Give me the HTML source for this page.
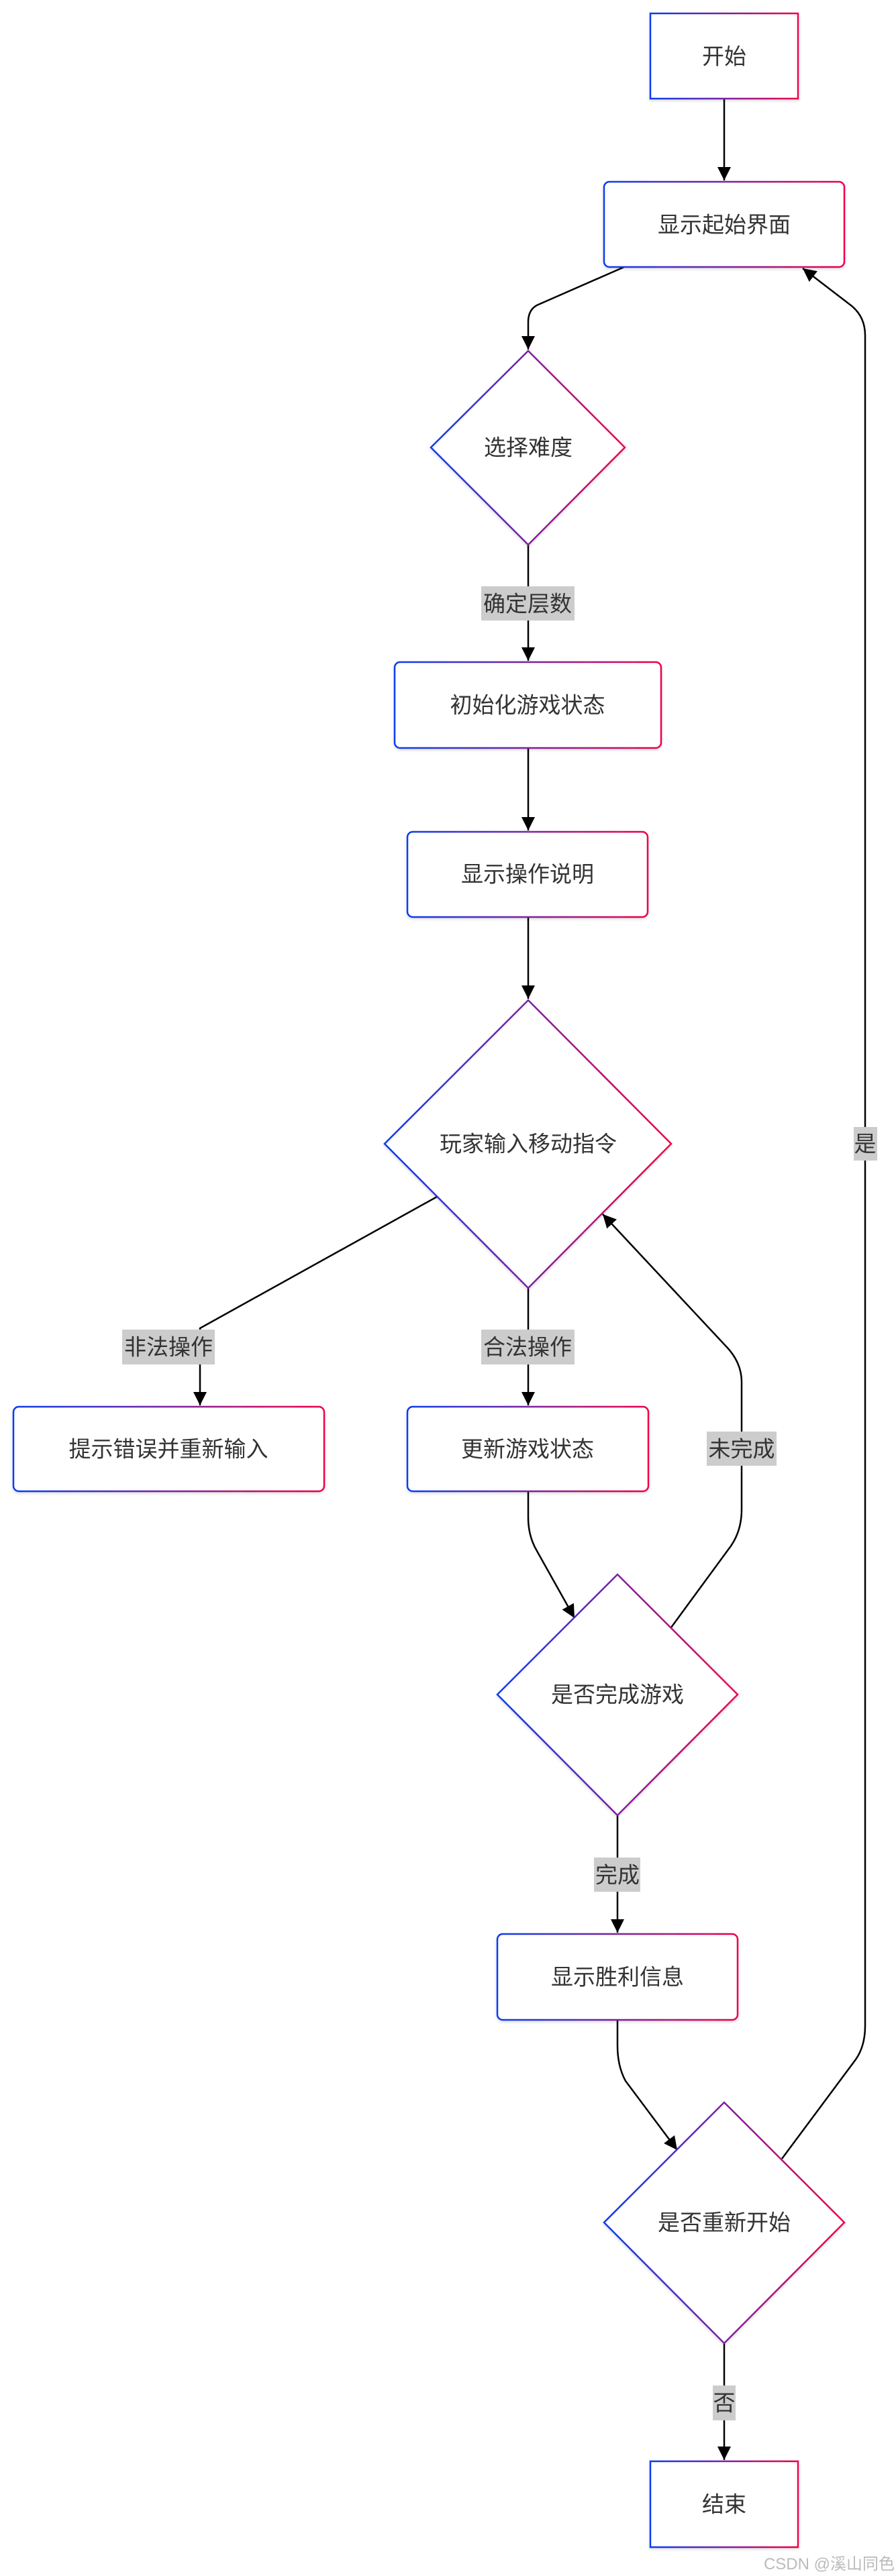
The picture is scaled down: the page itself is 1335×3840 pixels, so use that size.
<!DOCTYPE html>
<html><head><meta charset="utf-8"><style>
html,body{margin:0;padding:0;background:#fff;}
svg{display:block;}
text{font-family:"Liberation Sans","Noto Sans CJK SC",sans-serif;font-size:33px;fill:#333;}
</style></head><body>
<svg width="1335" height="3840" viewBox="0 0 1335 3840" xmlns="http://www.w3.org/2000/svg">
<defs>
<linearGradient id="g" x1="0" y1="0" x2="1" y2="0">
<stop offset="0" stop-color="#0a3cf0"/><stop offset="0.5" stop-color="#7a22a0"/><stop offset="1" stop-color="#f0004a"/>
</linearGradient>
<marker id="a" viewBox="0 0 10 10" refX="9" refY="5" markerWidth="7" markerHeight="7" markerUnits="userSpaceOnUse" orient="auto">
</marker>
<marker id="ar" viewBox="0 0 10 10" refX="10" refY="5" markerWidth="20" markerHeight="20" markerUnits="userSpaceOnUse" orient="auto">
<path d="M0,0 L10,5 L0,10 z" fill="#000"/>
</marker>
<filter id="s" x="-5%" y="-5%" width="110%" height="115%"><feDropShadow dx="0" dy="2" stdDeviation="2" flood-color="#000" flood-opacity="0.15"/></filter>
</defs>
<g fill="none" stroke="#000" stroke-width="2.5">
<path d="M1079,147 L1079,269" marker-end="url(#ar)"/>
<path d="M930,398 L800,455 Q787,462 787,480 L787,521" marker-end="url(#ar)"/>
<path d="M787,812 L787,985" marker-end="url(#ar)"/>
<path d="M787,1115 L787,1238" marker-end="url(#ar)"/>
<path d="M787,1367 L787,1489" marker-end="url(#ar)"/>
<path d="M651,1784 L298,1980 L298,2095" marker-end="url(#ar)"/>
<path d="M787,1920 L787,2095" marker-end="url(#ar)"/>
<path d="M787,2223 L787,2262 Q787,2290 800,2312 L856,2412" marker-end="url(#ar)"/>
<path d="M1000,2426 L1085,2310 Q1105,2285 1105,2250 L1105,2060 Q1105,2030 1080,2005 L898,1810" marker-end="url(#ar)"/>
<path d="M920,2706 L920,2881" marker-end="url(#ar)"/>
<path d="M920,3011 L920,3049 Q920,3080 932,3102 L1009,3205" marker-end="url(#ar)"/>
<path d="M1165,3218 L1275,3070 Q1289,3050 1289,3020 L1289,500 Q1289,470 1265,453 L1196,400" marker-end="url(#ar)"/>
<path d="M1079,3493 L1079,3667" marker-end="url(#ar)"/>
</g>
<g stroke="url(#g)" stroke-width="2.5" fill="#fff" filter="url(#s)">
<rect x="969" y="20" width="220" height="127"/>
<rect x="900" y="271" width="358" height="127" rx="8"/>
<polygon points="787,523 931,667 787,812 642,667"/>
<rect x="588" y="987" width="397" height="128" rx="8"/>
<rect x="607" y="1240" width="358" height="127" rx="8"/>
<polygon points="787,1491 1000,1705 787,1920 573,1705"/>
<rect x="20" y="2097" width="463" height="126" rx="8"/>
<rect x="607" y="2097" width="359" height="126" rx="8"/>
<polygon points="920,2347 1099,2526 920,2706 741,2526"/>
<rect x="741" y="2883" width="358" height="128" rx="8"/>
<polygon points="1079,3134 1258,3313 1079,3493 900,3313"/>
<rect x="969" y="3669" width="220" height="128"/>
</g>
<g fill="#cccccc">
<rect x="717" y="874" width="139" height="51"/>
<rect x="182" y="1982" width="138" height="52"/>
<rect x="717" y="1982" width="139" height="52"/>
<rect x="1053" y="2134" width="104" height="51"/>
<rect x="1272" y="1680" width="35" height="50"/>
<rect x="885" y="2769" width="69" height="51"/>
<rect x="1062" y="3556" width="34" height="52"/>
</g>
<g text-anchor="middle" dominant-baseline="central">
<text x="1079" y="84">开始</text>
<text x="1079" y="335">显示起始界面</text>
<text x="787" y="667">选择难度</text>
<text x="786" y="900">确定层数</text>
<text x="786" y="1051">初始化游戏状态</text>
<text x="786" y="1303">显示操作说明</text>
<text x="787" y="1705">玩家输入移动指令</text>
<text x="251" y="2008">非法操作</text>
<text x="786" y="2008">合法操作</text>
<text x="251" y="2160">提示错误并重新输入</text>
<text x="786" y="2160">更新游戏状态</text>
<text x="1105" y="2160">未完成</text>
<text x="1289" y="1705">是</text>
<text x="920" y="2526">是否完成游戏</text>
<text x="920" y="2795">完成</text>
<text x="920" y="2947">显示胜利信息</text>
<text x="1079" y="3313">是否重新开始</text>
<text x="1079" y="3582">否</text>
<text x="1079" y="3733">结束</text>
</g>
<text x="1333" y="3830" text-anchor="end" style="font-size:24px;fill:#bbb">CSDN @溪山同色</text>
</svg>
</body></html>
